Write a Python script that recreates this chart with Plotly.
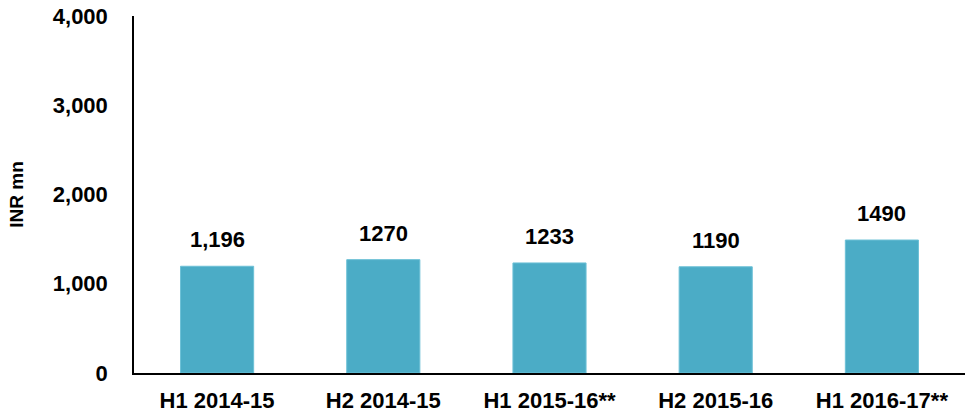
import plotly.graph_objects as go

# values
periods = ["H1 2014-15", "H2 2014-15", "H1 2015-16**", "H2 2015-16", "H1 2016-17**"]
revenue = [1196, 1270, 1233, 1190, 1490]
labels = ["1,196", "1270", "1233", "1190", "1490"]

bar_color = "#4BACC6"
font_family = "Arial, Liberation Sans, sans-serif"

fig = go.Figure()
fig.add_trace(go.Bar(
    x=periods,
    y=revenue,
    marker=dict(color=bar_color, line=dict(color="#6cc0d6", width=1)),
    showlegend=False,
    hoverinfo="skip",
))

# value labels floating above bars
for p, v, t in zip(periods, revenue, labels):
    fig.add_annotation(
        x=p, y=v, text=t, showarrow=False,
        yanchor="bottom", yshift=12,
        font=dict(family=font_family, size=22, color="black", weight="bold"),
    )

fig.update_layout(
    width=966, height=416,
    margin=dict(l=134, r=1, t=16, b=43, autoexpand=False),
    paper_bgcolor="white",
    plot_bgcolor="white",
    bargap=0.56,
    font=dict(family=font_family, color="black"),
)
fig.update_xaxes(
    showline=True, linecolor="black", linewidth=1.5,
    showgrid=False, ticks="", ticklabelstandoff=7,
    tickfont=dict(size=22, weight="bold"),
)
fig.update_yaxes(
    range=[0, 4000], tickvals=[0, 1000, 2000, 3000, 4000],
    tickformat=",", showline=True, linecolor="black", linewidth=1.5,
    showgrid=False, zeroline=False, ticks="", ticklabelstandoff=20,
    tickfont=dict(size=22, weight="bold"),
    title=dict(text="INR mn", font=dict(size=19, weight="bold"), standoff=24),
)

# drop the default page margin so the chart sits at the window's corner
fig.write_html(
    "out.html",
    config={"displayModeBar": False},
    post_script="document.body.style.margin='0px';",
)
